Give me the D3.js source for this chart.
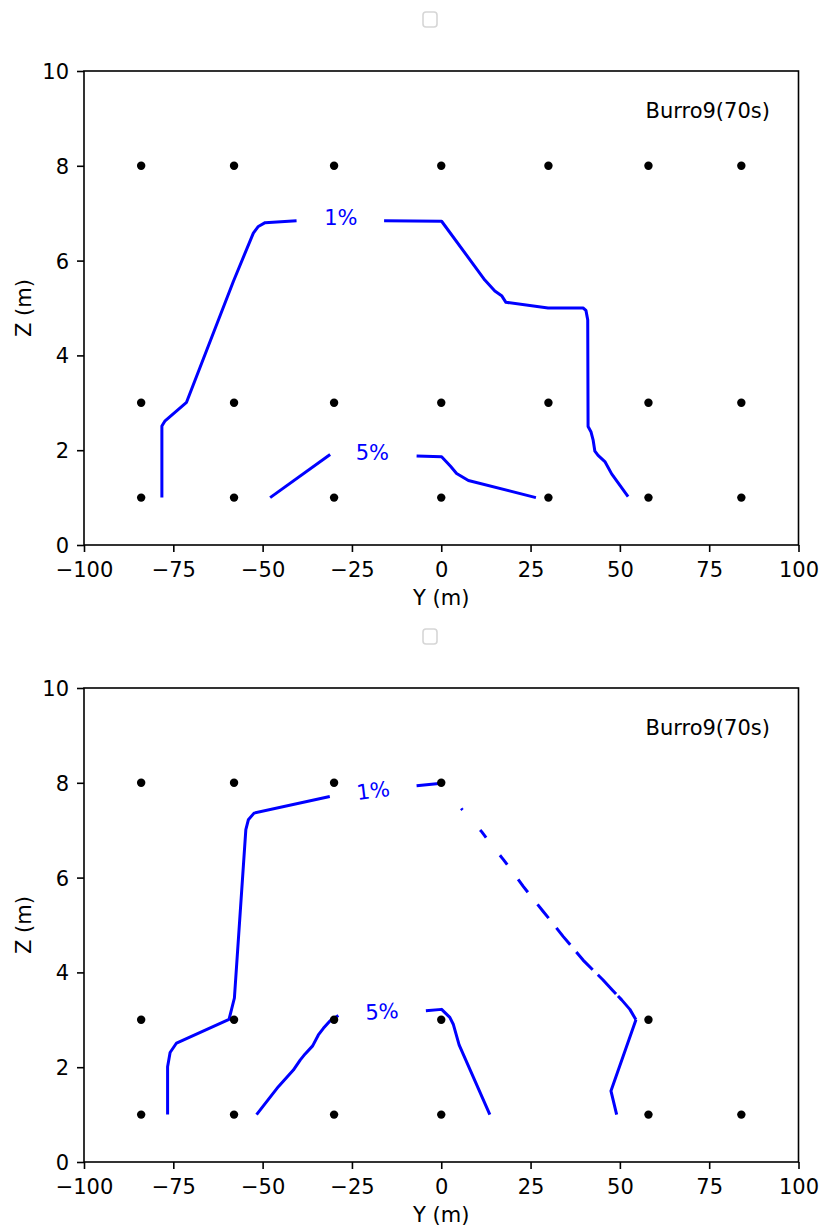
<!DOCTYPE html>
<html>
<head>
<meta charset="utf-8">
<script src="https://cdn.jsdelivr.net/npm/d3@7"></script>
<style>
  body { margin: 0; background: #fff; }
  text { font-family: "DejaVu Sans", sans-serif; }
</style>
</head>
<body>
<svg id="fig" width="822" height="1230"></svg>
<script>
// ---- data (Y, Z in metres) ----
const xTicks = [-100, -75, -50, -25, 0, 25, 50, 75, 100];
const yTicks = [0, 2, 4, 6, 8, 10];
const caseName = "Burro9(70s)";

// sensor grid, upper panel
const upperSensorY = [-84, -58, -30, 0, 30, 58, 84];
const upperSensorZ = [8, 3, 1];
// sensor grid, lower panel (rows listed per height)
const lowerRow8 = [-84, -58, -30, 0];
const lowerRow3 = [-84, -58, -30, 0, 58];
const lowerRow1 = [-84, -58, -30, 0, 58, 84];

// upper panel contours
const upper1a = [[-78.2, 1.0], [-78.2, 2.51], [-77.3, 2.62], [-71.3, 3.01], [-58.2, 5.56], [-52.6, 6.58], [-51.2, 6.72], [-49.3, 6.80], [-40.5, 6.84]];
const upper1b = [[-16.0, 6.84], [0.1, 6.83], [12.2, 5.59], [15.0, 5.36], [16.9, 5.26], [18.1, 5.12], [29.9, 5.00], [39.7, 5.00], [40.5, 4.95], [41.0, 4.75], [41.1, 2.50], [41.9, 2.39], [42.5, 2.22], [43.0, 1.98], [43.9, 1.89], [45.8, 1.76], [47.7, 1.50], [52.3, 1.02]];
const upper5a = [[-47.9, 1.0], [-31.1, 1.91]];
const upper5b = [[-6.9, 1.88], [0.1, 1.86], [2.6, 1.66], [4.3, 1.51], [7.6, 1.36], [26.5, 1.0]];

// lower panel contours
const lower1a = [[-76.6, 1.0], [-76.6, 2.01], [-75.9, 2.31], [-74.1, 2.51], [-59.4, 3.01], [-57.9, 3.46], [-54.7, 7.01], [-54.0, 7.22], [-52.4, 7.36], [-31.2, 7.71]];
const lower1b = [[-6.9, 7.94], [0.1, 7.99]];
const lower1dashed = [[0.1, 7.99], [5.7, 7.45], [8.6, 7.2], [11.3, 6.97], [14.6, 6.64], [17.4, 6.38], [20.0, 6.12], [23.0, 5.81], [25.6, 5.56], [28.6, 5.28], [31.2, 5.04], [34.1, 4.76], [36.8, 4.52], [39.7, 4.26], [42.6, 4.04], [45.3, 3.84], [48.0, 3.62], [50.5, 3.42], [52.8, 3.22], [54.5, 3.0]];
const lower1c = [[54.5, 3.0], [47.5, 1.50], [49.1, 1.0]];
const lower5a = [[-51.7, 1.0], [-45.6, 1.59], [-41.4, 1.94], [-39.5, 2.15], [-38.1, 2.28], [-36.0, 2.45], [-34.4, 2.68], [-33.0, 2.82], [-31.1, 2.98], [-28.8, 3.09]];
const lower5b = [[-4.3, 3.19], [0.1, 3.22], [2.4, 3.05], [3.4, 2.90], [5.0, 2.47], [13.6, 1.0]];

// contour labels: [text, Y, Z, rotation]
const upperLabels = [["1%", -28.1, 6.92, 0], ["5%", -19.3, 1.96, 0]];
const lowerLabels = [["1%", -19.1, 7.84, -7], ["5%", -16.6, 3.18, -3]];

// ---- layout ----
const svg = d3.select("#fig");
const left = 84, right = 798.5, plotH = 474;
const fs = 21;
const blue = "#0000ff";

// broken-line pattern for the dashed stretch (relative units along the path)
const dashPattern = [0, 31.8, 2, 26.6, 9.7, 22.4, 11.9, 18.3, 16.1, 15.5, 17.6, 12.4, 21.9, 9.4, 24.1, 7.2, 26.4, 2.8, 60];
const dashRef = 306;

function drawPanel(top, dots, contours, labels) {
  const x = d3.scaleLinear().domain([-100, 100]).range([left, right]);
  const y = d3.scaleLinear().domain([0, 10]).range([top + plotH, top]);
  const g = svg.append("g");

  // empty legend frame above the axes
  g.append("rect")
    .attr("x", 423).attr("y", top - 59).attr("width", 14).attr("height", 15)
    .attr("rx", 3).attr("fill", "#fff")
    .attr("stroke", "#cccccc").attr("stroke-opacity", 0.8).attr("stroke-width", 1.6);

  // x axis
  const xa = g.append("g").attr("transform", `translate(0,${top + plotH})`)
    .call(d3.axisBottom(x).tickValues(xTicks).tickSize(7).tickSizeOuter(0));
  xa.select(".domain").remove();
  xa.selectAll("line").attr("stroke", "#000").attr("stroke-width", 1.6);
  xa.selectAll("text").attr("y", 32).attr("dy", null)
    .attr("font-size", fs).attr("fill", "#000").style("font-family", "DejaVu Sans");

  // y axis
  const ya = g.append("g").attr("transform", `translate(${left},0)`)
    .call(d3.axisLeft(y).tickValues(yTicks).tickSize(7).tickPadding(8).tickSizeOuter(0));
  ya.select(".domain").remove();
  ya.selectAll("line").attr("stroke", "#000").attr("stroke-width", 1.6);
  ya.selectAll("text").attr("dy", "0.36em")
    .attr("font-size", fs).attr("fill", "#000").style("font-family", "DejaVu Sans");

  // axis titles
  g.append("text").attr("x", x(0)).attr("y", top + plotH + 60)
    .attr("text-anchor", "middle").attr("font-size", fs).text("Y (m)");
  g.append("text")
    .attr("transform", `translate(31,${top + plotH / 2}) rotate(-90)`)
    .attr("text-anchor", "middle").attr("font-size", fs).text("Z (m)");

  // contour lines
  const line = d3.line().x(d => x(d[0])).y(d => y(d[1]));
  contours.forEach(c => {
    const p = g.append("path").attr("d", line(c.pts))
      .attr("fill", "none").attr("stroke", blue).attr("stroke-width", 3)
      .attr("stroke-linejoin", "round");
    if (c.dashed) {
      const L = p.node().getTotalLength();
      const k = L / dashRef;
      p.attr("stroke-dasharray", dashPattern.map(v => (v * k).toFixed(2)).join(","));
    }
  });

  // contour level labels
  labels.forEach(([t, yy, zz, rot]) => {
    g.append("text")
      .attr("transform", `translate(${x(yy)},${y(zz)}) rotate(${rot})`)
      .attr("text-anchor", "middle").attr("dy", "0.36em")
      .attr("font-size", fs).attr("fill", blue).text(t);
  });

  // sensor positions
  g.append("g").selectAll("circle").data(dots).join("circle")
    .attr("cx", d => x(d[0])).attr("cy", d => y(d[1])).attr("r", 4.2).attr("fill", "#000");

  // case annotation
  g.append("text").attr("x", x(92)).attr("y", y(9))
    .attr("text-anchor", "end").attr("font-size", fs).text(caseName);

  // axes frame
  g.append("rect").attr("x", left).attr("y", top)
    .attr("width", right - left).attr("height", plotH)
    .attr("fill", "none").attr("stroke", "#000").attr("stroke-width", 1.6);
}

const upperDots = upperSensorZ.flatMap(z => upperSensorY.map(yv => [yv, z]));
const lowerDots = [
  ...lowerRow8.map(v => [v, 8]),
  ...lowerRow3.map(v => [v, 3]),
  ...lowerRow1.map(v => [v, 1])
];

drawPanel(71, upperDots,
  [upper1a, upper1b, upper5a, upper5b].map(p => ({ pts: p })),
  upperLabels);

drawPanel(688, lowerDots,
  [{ pts: lower1a }, { pts: lower1b }, { pts: lower1dashed, dashed: true }, { pts: lower1c },
   { pts: lower5a }, { pts: lower5b }],
  lowerLabels);
</script>
</body>
</html>
